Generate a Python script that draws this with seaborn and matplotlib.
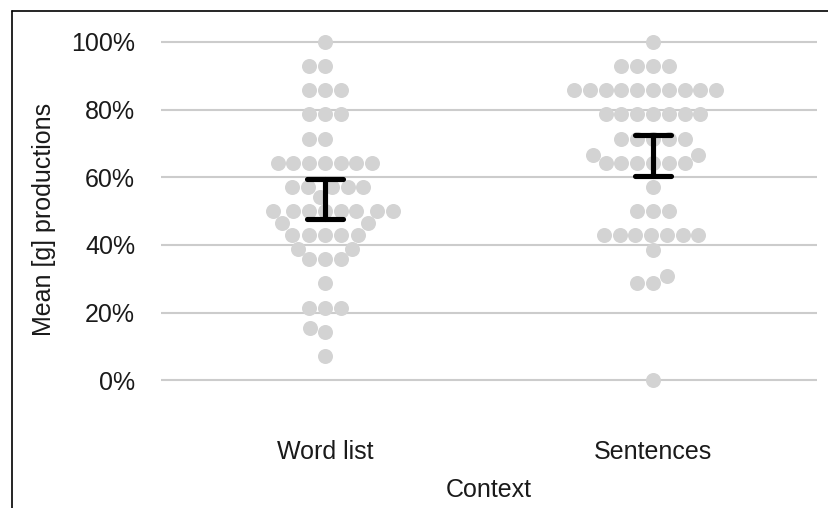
import numpy as np
import pandas as pd
import matplotlib
matplotlib.use('Agg')
import matplotlib.pyplot as plt
from matplotlib.lines import Line2D
from matplotlib.ticker import PercentFormatter
import seaborn as sns

# per-participant mean [g] productions (%)
word_list = [100,
             92.9, 92.9,
             85.7, 85.7, 85.7,
             78.6, 78.6, 78.6,
             71.4, 71.4,
             64.3, 64.3, 64.3, 64.3, 64.3, 64.3, 64.3,
             57.1, 57.1, 57.1, 57.1, 57.1,
             54.2,
             50, 50, 50, 50, 50, 50, 50, 50,
             46.4, 46.4,
             42.9, 42.9, 42.9, 42.9, 42.9,
             38.9, 38.9,
             35.7, 35.7, 35.7,
             28.6,
             21.4, 21.4, 21.4,
             15.4, 14.3,
             7.1]
sentences = [100,
             92.9, 92.9, 92.9, 92.9,
             85.7, 85.7, 85.7, 85.7, 85.7, 85.7, 85.7, 85.7, 85.7, 85.7,
             78.6, 78.6, 78.6, 78.6, 78.6, 78.6, 78.6,
             71.4, 71.4, 71.4, 71.4, 71.4,
             66.7, 66.7,
             64.3, 64.3, 64.3, 64.3, 64.3, 64.3,
             57.1,
             50, 50, 50,
             42.9, 42.9, 42.9, 42.9, 42.9, 42.9, 42.9,
             38.5,
             30.8, 28.6, 28.6,
             0]
contexts = ['Word list', 'Sentences']
y_ticks = [0, 20, 40, 60, 80, 100]

df = pd.DataFrame({
    'Context': [contexts[0]] * len(word_list) + [contexts[1]] * len(sentences),
    'score': word_list + sentences,
})

sns.set_style('white')
plt.rcParams['font.family'] = ['Liberation Sans', 'DejaVu Sans']

fig = plt.figure(figsize=(8.29, 5.08), dpi=100)
ax = fig.add_axes([161/829, 1 - 414/508, 656/829, 389/508])

sns.swarmplot(data=df, x='Context', y='score', order=contexts, color='#d3d3d3',
              size=10.8, linewidth=0, ax=ax, zorder=2)
sns.pointplot(data=df, x='Context', y='score', order=contexts, errorbar=('se', 2),
              color='black', markers='', linestyle='none', capsize=0.11,
              err_kws={'linewidth': 3.7, 'solid_capstyle': 'round'}, ax=ax)
for ln in ax.lines:
    ln.set_zorder(5)
    ln.set_solid_capstyle('round')

ax.set_xlim(-0.5, 1.5)
ax.set_ylim(-10, 105)
ax.set_yticks(y_ticks)
ax.yaxis.set_major_formatter(PercentFormatter(100, decimals=0))
ax.yaxis.grid(True, color='#cccccc', linewidth=1.5, zorder=0)
ax.set_axisbelow(True)
sns.despine(ax=ax, left=True, bottom=True)
ax.tick_params(axis='both', length=0, labelsize=18, labelcolor='#1a1a1a', pad=18.7)
ax.set_xlabel('Context', fontsize=18, color='#1a1a1a', labelpad=10)
ax.set_ylabel('Mean [g] productions', fontsize=18, color='#1a1a1a', labelpad=11)

# frame of the original figure (only top and left edge visible)
fig.add_artist(Line2D([12/829, 12/829], [0, 1 - 11/508], color='black', linewidth=1.2))
fig.add_artist(Line2D([12/829, 1], [1 - 11/508, 1 - 11/508], color='black', linewidth=1.2))

fig.savefig('out.png', dpi=100)
